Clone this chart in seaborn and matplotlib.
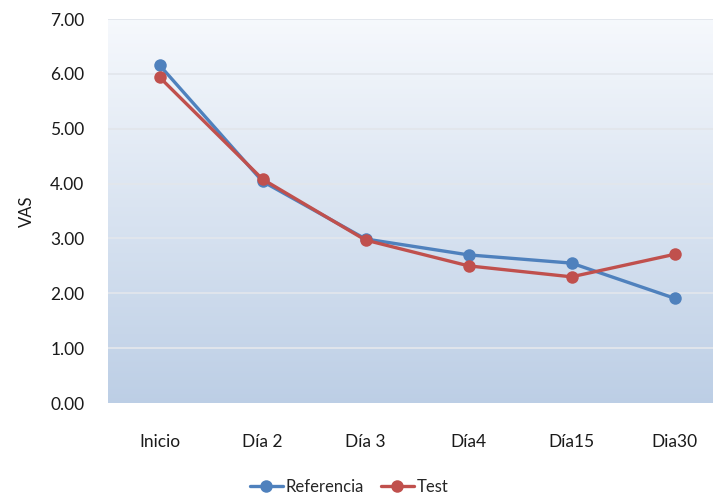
import numpy as np
import pandas as pd
import matplotlib
matplotlib.use("Agg")
import matplotlib.pyplot as plt
import seaborn as sns

categories = ["Inicio", "Día 2", "Día 3", "Día4", "Día15", "Dia30"]
referencia = [6.16, 4.04, 2.99, 2.70, 2.55, 1.91]
test = [5.94, 4.08, 2.97, 2.50, 2.30, 2.71]
series_names = ["Referencia", "Test"]
y_ticks = [0, 1, 2, 3, 4, 5, 6, 7]

df = pd.DataFrame({
    "dia": categories * 2,
    "pos": list(range(len(categories))) * 2,
    "VAS": referencia + test,
    "serie": [series_names[0]] * len(categories) + [series_names[1]] * len(categories),
})

sns.set_theme(style="white")
plt.rcParams["font.family"] = ["Lato", "DejaVu Sans"]

fig = plt.figure(figsize=(7.13, 5.0), dpi=100)
ax = fig.add_axes([108 / 713, 97 / 500, 618 / 713, 384 / 500])

# vertical gradient background for the plot area
grad = np.linspace(0, 1, 256).reshape(-1, 1)
top = np.array([0.965, 0.975, 0.99])
bottom = np.array([0.74, 0.81, 0.90])
img = top + (bottom - top) * grad[..., None]
ax.imshow(img, extent=[-0.5, 5.5, 0, 7], aspect="auto", zorder=0, origin="upper")

for v in y_ticks[1:]:
    ax.axhline(v, color="#e2e6ec", lw=1.3, zorder=1)

sns.lineplot(
    data=df, x="pos", y="VAS", hue="serie",
    palette={"Referencia": "#4f81bd", "Test": "#c0504d"},
    marker="o", markersize=9, markeredgewidth=0, linewidth=2.4,
    ax=ax, zorder=3,
)

ax.set_xlim(-0.5, 5.5)
ax.set_ylim(0, 7)
ax.set_xticks(range(len(categories)))
ax.set_xticklabels(categories)
ax.set_yticks(y_ticks)
ax.set_yticklabels([f"{v:.2f}" for v in y_ticks])
ax.tick_params(axis="both", labelsize=12.5, colors="#1a1a1a", length=0)
ax.tick_params(axis="y", pad=17)
ax.tick_params(axis="x", pad=22)
ax.set_xlabel("")
ax.set_ylabel("VAS", fontsize=12, color="#1a1a1a", labelpad=11)
for s in ax.spines.values():
    s.set_visible(False)

handles, labels = ax.get_legend_handles_labels()
ax.legend(handles, labels, loc="center", bbox_to_anchor=(349 / 713, 13 / 500),
          bbox_transform=fig.transFigure, ncol=2, frameon=False,
          fontsize=12, handlelength=2.0, handletextpad=0.15, columnspacing=1.0)

fig.savefig("out.png", dpi=100)
